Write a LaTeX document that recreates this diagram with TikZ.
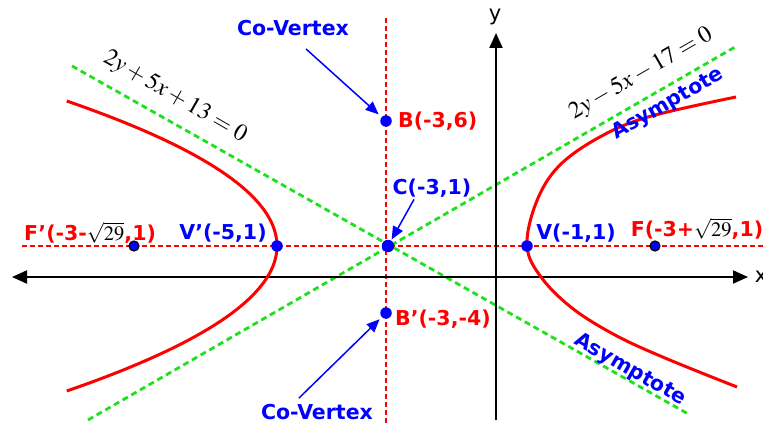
\documentclass[tikz,border=0pt]{standalone}
\usepackage{mathptmx}
\usepackage{fontspec}
\setmainfont{Liberation Serif}
\setsansfont{DejaVu Sans}
\usepackage{tikz}
\usetikzlibrary{arrows.meta, positioning}
\definecolor{HBred}{RGB}{255,0,0}
\definecolor{HBblue}{RGB}{0,0,255}
\definecolor{HBgreen}{RGB}{30,225,30}

\tikzset{
  xaxisline/.style={line width=2pt, {Triangle[length=15pt,width=13pt]}-{Triangle[length=15pt,width=13pt]}},
  yaxisline/.style={line width=2pt, -{Triangle[length=15pt,width=13pt]}},
  guide/.style={HBred, line width=2.6pt, dash pattern=on 5pt off 3pt},
  asym/.style={HBgreen, line width=2.8pt, dash pattern=on 6pt off 4pt},
  branch/.style={HBred, line width=3pt},
  dot/.style={circle, fill=HBblue, inner sep=0pt, minimum size=11.5pt},
  focus/.style={circle, fill=HBblue, draw=black, line width=1.2pt, inner sep=0pt, minimum size=10pt},
  lab/.style={font=\sffamily\bfseries\fontsize{20.5}{22}\selectfont, inner sep=0pt},
  eq/.style={font=\fontsize{24}{26}\selectfont, inner sep=0pt},
  pointer/.style={HBblue, line width=1.5pt, -{Triangle[length=13pt,width=11pt]}},
}

\begin{document}
\begin{tikzpicture}[x=1pt, y=-1pt]
  \useasboundingbox (0,0) rectangle (763,425);

  % axes of the hyperbola
  \draw[guide] (22,246) -- (763,246);
  \draw[guide] (386,18) -- (386,425);

  % asymptotes
  \draw[asym] (72,66) -- (690,415);
  \draw[asym] (88,420) -- (735,47);

  % coordinate axes
  \draw[xaxisline] (12,277) -- (748,277);
  \draw[yaxisline] (496,420) -- (496,33);
  \node[font=\sffamily\fontsize{21}{21}\selectfont] (ylab) at (495,17) {y};
  \node[font=\sffamily\fontsize{21}{21}\selectfont] (xlab) at (761,277) {x};

  % branches
  \draw[branch] plot[domain=-14.5:14.5, samples=80] ({277-(\x)^2}, {246+10*\x});
  \draw[branch] plot[smooth, tension=0.6] coordinates {(736,97) (648,117) (598,138) (558,167)
    (536,203) (527,246) (541,277) (572,308) (615,335) (665,358) (737,387)};

  % points
  \node[dot, minimum size=12.5pt] (C) at (388,246) {};
  \node[dot] (Vl) at (277,246) {};
  \node[dot] (Vr) at (527,246) {};
  \node[dot] (B) at (386,121) {};
  \node[dot] (Bp) at (386,313) {};
  \node[focus] (Fl) at (134,246) {};
  \node[focus] (Fr) at (655,246) {};

  % labels
  \node[lab, HBred, right=6pt of B] (Blab) {B(-3,6)};
  \node[lab, HBred, anchor=west] (Bplab) at (395,319) {B’(-3,-4)};
  \node[lab, HBblue] (Clab) at (432,188) {C(-3,1)};
  \node[lab, HBblue] (Vllab) at (223,233) {V’(-5,1)};
  \node[lab, HBblue] (Vrlab) at (576,233) {V(-1,1)};
  \node[lab] (Fllab) at (90,233) {\textcolor{HBred}{F’(-3-}$\sqrt{29}$\textcolor{HBred}{,1)}};
  \node[lab] (Frlab) at (697,229) {\textcolor{HBred}{F(-3+}$\sqrt{29}$\textcolor{HBred}{,1)}};
  \node[lab, HBblue] (cvtop) at (293,28) {Co-Vertex};
  \node[lab, HBblue] (cvbot) at (317,412) {Co-Vertex};
  \node[lab, HBblue, rotate=30] (asup) at (668,104) {Asymptote};
  \node[lab, HBblue, rotate=-30] (asdn) at (630,370) {Asymptote};
  \node[eq, rotate=-30] (eql) at (175,97) {$2y+5x+13=0$};
  \node[eq, rotate=30] (eqr) at (641,74) {$2y-5x-17=0$};

  % pointers
  \draw[pointer, shorten >=4pt] ([shift={(13,13)}]cvtop.south) -- (B);
  \draw[pointer, shorten >=3pt] ([shift={(-18,-6)}]cvbot.north) -- (Bp);
  \draw[pointer, shorten >=1pt] ([shift={(-18,2)}]Clab.south) -- (C);
\end{tikzpicture}
\end{document}
